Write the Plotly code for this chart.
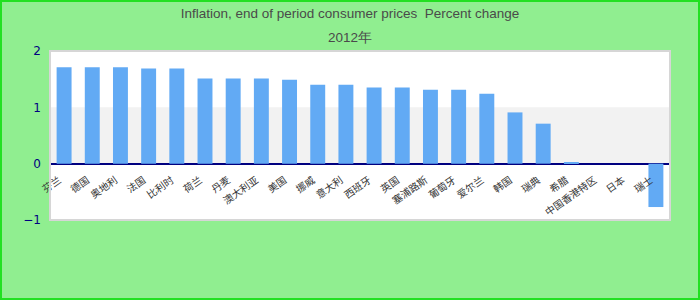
import plotly.graph_objects as go

categories = ["芬兰", "德国", "奥地利", "法国", "比利时", "荷兰", "丹麦", "澳大利亚",
              "美国", "挪威", "意大利", "西班牙", "英国", "塞浦路斯", "葡萄牙", "爱尔兰",
              "韩国", "瑞典", "希腊", "中国香港特区", "日本", "瑞士"]
values = [1.71, 1.71, 1.71, 1.69, 1.69, 1.51, 1.51, 1.51,
          1.49, 1.40, 1.40, 1.35, 1.35, 1.31, 1.31, 1.24,
          0.91, 0.71, 0.03, None, None, -0.77]
title_line1 = "Inflation, end of period consumer prices  Percent change"
title_line2 = "2012年"
y_ticks = [-1, 0, 1, 2]

W, H = 700, 300
ml, mr, mt, mb = 50, 30, 51, 80
pw, ph = W - ml - mr, H - mt - mb

fig = go.Figure(go.Bar(x=categories, y=values, marker=dict(color="#62aaf4", line=dict(width=0))))

shapes = [
    # light band between 0 and 1
    dict(type="rect", xref="paper", yref="y", x0=0, x1=1, y0=0, y1=1,
         fillcolor="#f2f2f2", line=dict(width=0), layer="below"),
    # plot frame
    dict(type="rect", xref="paper", yref="paper", x0=0, x1=1, y0=0, y1=1,
         line=dict(color="#d6d6d6", width=2), layer="above"),
    # outer green border
    dict(type="rect", xref="paper", yref="paper",
         x0=(1 - ml) / pw, x1=(W - 1 - ml) / pw,
         y0=(1 - mb) / ph, y1=(H - 1 - mb) / ph,
         line=dict(color="#22e022", width=2), layer="above"),
]

title_font = dict(family="Liberation Sans, Arial", size=13.5, color="#4a4a4a")

fig.update_layout(
    width=W, height=H,
    margin=dict(l=ml, r=mr, t=mt, b=mb),
    paper_bgcolor="#90ee90",
    plot_bgcolor="white",
    title=dict(text=title_line1, x=0.5, xanchor="center",
               y=1 - 13 / H, yanchor="middle", yref="container", font=title_font),
    annotations=[dict(text=title_line2, xref="paper", yref="paper", x=(W / 2 - ml) / pw,
                      y=(H - 37 - mb) / ph, xanchor="center", yanchor="middle",
                      showarrow=False, font=title_font)],
    bargap=0.47,
    showlegend=False,
    shapes=shapes,
    xaxis=dict(anchor="free", position=1/3, showline=False, showgrid=False, zeroline=False,
               tickangle=-35, tickfont=dict(family="Noto Sans CJK SC", size=10, color="#333333"),
               ticks="", ticklabelstandoff=8, ticklabelshift=-5),
    yaxis=dict(range=[-1, 2], tickvals=y_ticks, showgrid=False, zeroline=True,
               zerolinecolor="#000080", zerolinewidth=2, showline=False,
               tickfont=dict(family="DejaVu Sans", size=12, color="#000080"),
               ticklabelstandoff=8),
)

fig.write_html("out.html")
